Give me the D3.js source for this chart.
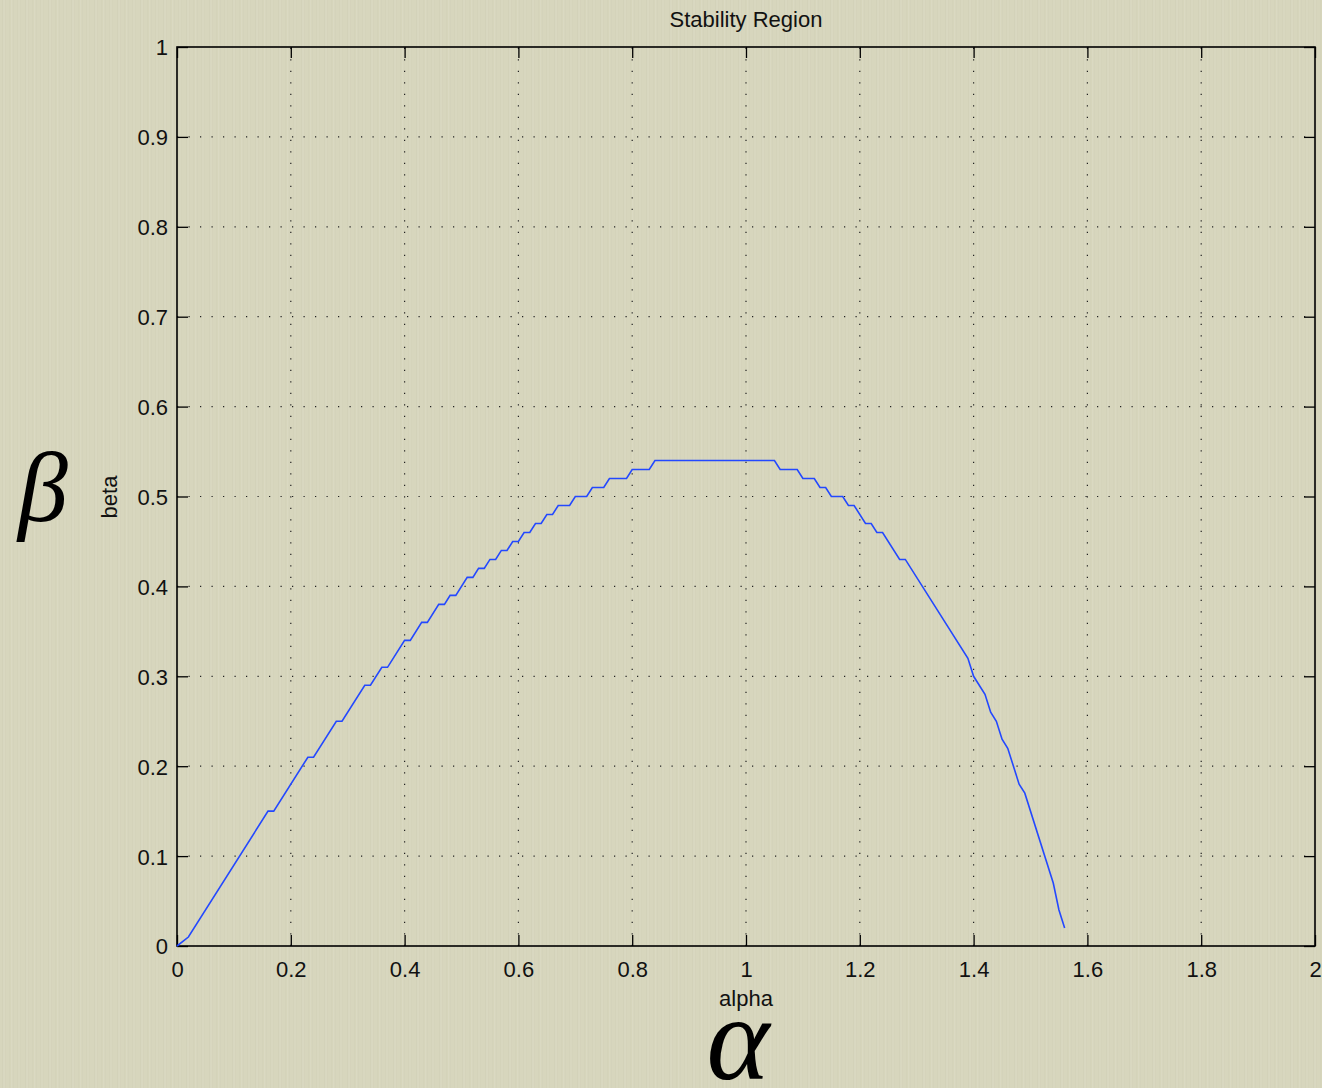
<!DOCTYPE html>
<html><head><meta charset="utf-8">
<script src="https://cdn.jsdelivr.net/npm/d3@7"></script>
<style>html,body{margin:0;padding:0;background:#d7d6bd;}svg{display:block;}</style>
</head><body>
<script>
// Data (vertices of the stability boundary)
const alphaVals = [0,0.02,0.16,0.17,0.23,0.24,0.28,0.29,0.33,0.34,0.36,0.37,0.40,0.41,0.43,0.44,0.46,0.47,0.48,0.49,0.51,0.52,0.53,0.54,0.55,0.56,0.57,0.58,0.59,0.60,0.61,0.62,0.63,0.64,0.65,0.66,0.67,0.69,0.70,0.72,0.73,0.75,0.76,0.79,0.80,0.83,0.84,1.05,1.06,1.09,1.10,1.12,1.13,1.14,1.15,1.17,1.18,1.19,1.21,1.22,1.23,1.24,1.27,1.28,1.39,1.40,1.42,1.43,1.44,1.45,1.46,1.48,1.49,1.54,1.55,1.56];
const betaVals  = [0,0.01,0.15,0.15,0.21,0.21,0.25,0.25,0.29,0.29,0.31,0.31,0.34,0.34,0.36,0.36,0.38,0.38,0.39,0.39,0.41,0.41,0.42,0.42,0.43,0.43,0.44,0.44,0.45,0.45,0.46,0.46,0.47,0.47,0.48,0.48,0.49,0.49,0.50,0.50,0.51,0.51,0.52,0.52,0.53,0.53,0.54,0.54,0.53,0.53,0.52,0.52,0.51,0.51,0.50,0.50,0.49,0.49,0.47,0.47,0.46,0.46,0.43,0.43,0.32,0.30,0.28,0.26,0.25,0.23,0.22,0.18,0.17,0.07,0.04,0.02];
const xTicks = [0,0.2,0.4,0.6,0.8,1,1.2,1.4,1.6,1.8,2];
const yTicks = [0,0.1,0.2,0.3,0.4,0.5,0.6,0.7,0.8,0.9,1];
const xTickLabels = ["0","0.2","0.4","0.6","0.8","1","1.2","1.4","1.6","1.8","2"];
const yTickLabels = ["0","0.1","0.2","0.3","0.4","0.5","0.6","0.7","0.8","0.9","1"];
const titleText = "Stability Region";
const xLabel = "alpha", yLabel = "beta";

const W = 1322, H = 1088;
const L = 177, R = 1315, T = 47, B = 946;
const svg = d3.select("body").append("svg").attr("width", W).attr("height", H);

// textured paper background
const defs = svg.append("defs");
const pat = defs.append("pattern").attr("id","paper").attr("patternUnits","userSpaceOnUse")
  .attr("width", 23).attr("height", 60);
pat.append("rect").attr("width",23).attr("height",60).attr("fill","#d7d6bd");
[[2,1.2,0.05],[5,0.8,0.04],[9,1.5,0.035],[13,0.7,0.05],[17,1.1,0.03],[20,0.9,0.045]].forEach(([x,w,o])=>{
  pat.append("rect").attr("x",x).attr("y",0).attr("width",w).attr("height",60).attr("fill","#8a8870").attr("opacity",o);
});
[[3.5,1,0.08],[11,1,0.07],[18.5,1,0.07]].forEach(([x,w,o])=>{
  pat.append("rect").attr("x",x).attr("y",0).attr("width",w).attr("height",60).attr("fill","#ffffff").attr("opacity",o);
});
svg.append("rect").attr("width",W).attr("height",H).attr("fill","url(#paper)");

const x = d3.scaleLinear().domain([0,2]).range([L,R]);
const y = d3.scaleLinear().domain([0,1]).range([B,T]);

const font = "Liberation Sans, Arial, Helvetica, sans-serif";

// grid
const g = svg.append("g");
g.selectAll(".gx").data(xTicks.slice(1,-1)).join("line")
  .attr("x1",d=>x(d)).attr("x2",d=>x(d)).attr("y1",B).attr("y2",T)
  .attr("stroke","#222").attr("stroke-width",1.2).attr("stroke-dasharray","1.2,10.3");
g.selectAll(".gy").data(yTicks.slice(1,-1)).join("line")
  .attr("x1",L).attr("x2",R).attr("y1",d=>y(d)).attr("y2",d=>y(d))
  .attr("stroke","#222").attr("stroke-width",1.2).attr("stroke-dasharray","1.2,10.3");

// axes (ticks inside, on all four sides)
const tl = 11;
const axB = d3.axisBottom(x).tickValues(xTicks).tickSize(-tl).tickPadding(15).tickFormat((d,i)=>xTickLabels[i]);
const axT = d3.axisTop(x).tickValues(xTicks).tickSize(-tl).tickFormat("");
const axL = d3.axisLeft(y).tickValues(yTicks).tickSize(-tl).tickPadding(9).tickFormat((d,i)=>yTickLabels[i]);
const axR = d3.axisRight(y).tickValues(yTicks).tickSize(-tl).tickFormat("");
function style(sel){
  sel.select(".domain").remove();
  sel.selectAll(".tick line").attr("stroke","#000").attr("stroke-width",1.3);
  sel.selectAll("text").attr("font-family",font).attr("font-size",22).attr("fill","#111");
}
svg.append("g").attr("transform",`translate(0,${B})`).call(axB).call(style);
svg.append("g").attr("transform",`translate(0,${T})`).call(axT).call(style);
svg.append("g").attr("class","yaxis").attr("transform",`translate(${L},0)`).call(axL).call(style);
svg.append("g").attr("transform",`translate(${R},0)`).call(axR).call(style);
svg.selectAll("g.yaxis text").attr("dy","0.36em");

svg.append("rect").attr("x",L).attr("y",T).attr("width",R-L).attr("height",B-T)
  .attr("fill","none").attr("stroke","#000").attr("stroke-width",1.6);

// curve
const pts = alphaVals.map((a,i)=>[a,betaVals[i]]);
svg.append("path").datum(pts)
  .attr("d", d3.line().x(d=>x(d[0])).y(d=>y(d[1])))
  .attr("fill","none").attr("stroke","#2348ff").attr("stroke-width",1.6);

// labels
svg.append("text").attr("x",746).attr("y",27).attr("text-anchor","middle")
  .attr("font-family",font).attr("font-size",22).attr("fill","#111").text(titleText);
svg.append("text").attr("x",746).attr("y",1006).attr("text-anchor","middle")
  .attr("font-family",font).attr("font-size",22).attr("fill","#111").text(xLabel);
svg.append("text").attr("transform","translate(117,497) rotate(-90)").attr("text-anchor","middle")
  .attr("font-family",font).attr("font-size",22).attr("fill","#111").text(yLabel);

// large hand-drawn Greek symbols
svg.append("text").attr("x",43).attr("y",521).attr("text-anchor","middle")
  .attr("font-family","Liberation Serif, DejaVu Serif, serif").attr("font-style","italic")
  .attr("font-size",100).attr("fill","#000").text("β");
svg.append("text").attr("x",738).attr("y",1079).attr("text-anchor","middle")
  .attr("font-family","Liberation Serif, DejaVu Serif, serif").attr("font-style","italic")
  .attr("font-size",120).attr("fill","#000").text("α");
</script>
</body></html>
